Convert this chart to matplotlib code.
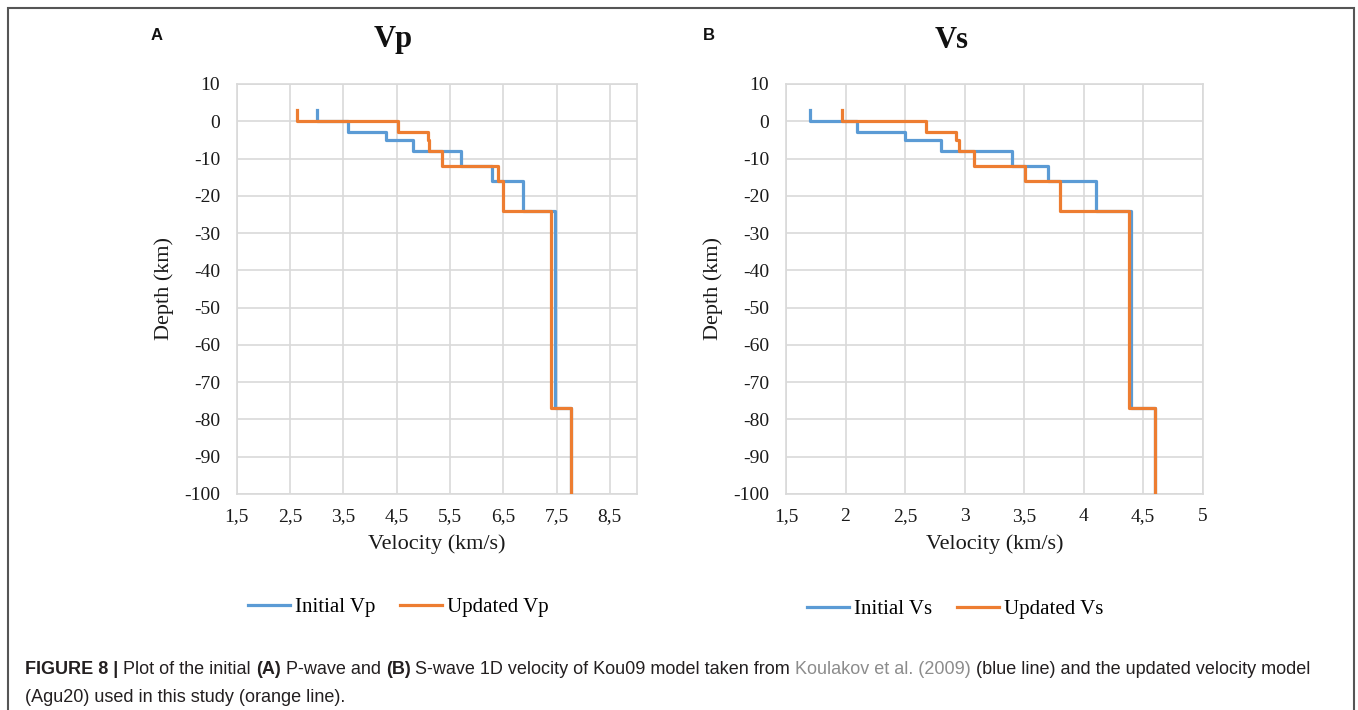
import numpy as np
import matplotlib
matplotlib.use("Agg")
import matplotlib.pyplot as plt
from matplotlib.patches import Rectangle
from matplotlib.offsetbox import TextArea, HPacker, AnnotationBbox

# layer boundaries (km), first value is the top of the plotted line
depths = [3, 0, -3, -5, -8, -12, -16, -24, -77, -100]

vp_initial = [3.0, 3.58, 4.3, 4.8, 5.7, 6.28, 6.88, 7.48, 7.78]
vp_updated = [2.63, 4.53, 5.08, 5.11, 5.35, 6.4, 6.5, 7.4, 7.78]
vs_initial = [1.7, 2.1, 2.5, 2.8, 3.4, 3.7, 4.1, 4.4, 4.6]
vs_updated = [1.97, 2.68, 2.93, 2.95, 3.08, 3.51, 3.8, 4.38, 4.6]

vp_ticks = [1.5, 2.5, 3.5, 4.5, 5.5, 6.5, 7.5, 8.5]
vs_ticks = [1.5, 2, 2.5, 3, 3.5, 4, 4.5, 5]
depth_ticks = [10, 0, -10, -20, -30, -40, -50, -60, -70, -80, -90, -100]

BLUE = "#5B9BD5"
ORANGE = "#ED7D31"
GRID = "#d9d9d9"
SERIF = "Liberation Serif"
SANS = "Liberation Sans"

W, H = 1358, 710


def steps(vel, dep):
    xs, ys = [], []
    for i, v in enumerate(vel):
        xs += [v, v]
        ys += [dep[i], dep[i + 1]]
    return xs, ys


def fmt(v):
    return ("%g" % v).replace(".", ",")


def panel(rect, vi, vu, xticks, xlim, title, title_x, letter, letter_x, names, leg_xy):
    ax = fig.add_axes([rect[0] / W, 1 - rect[3] / H,
                       (rect[2] - rect[0]) / W, (rect[3] - rect[1]) / H])
    x, y = steps(vi, depths)
    ax.plot(x, y, color=BLUE, lw=2.3, label=names[0], zorder=3)
    x, y = steps(vu, depths)
    ax.plot(x, y, color=ORANGE, lw=2.3, label=names[1], zorder=4)
    ax.set_xlim(*xlim)
    ax.set_ylim(-100, 10)
    ax.set_xticks(xticks)
    ax.set_xticklabels([fmt(t) for t in xticks], fontfamily=SERIF, fontsize=14)
    ax.set_yticks(depth_ticks)
    ax.set_yticklabels([str(t) for t in depth_ticks], fontfamily=SERIF, fontsize=14)
    ax.tick_params(length=0, colors="#1a1a1a")
    ax.tick_params(axis="x", pad=10)
    ax.tick_params(axis="y", pad=12)
    ax.grid(True, color=GRID, lw=1.2)
    ax.set_axisbelow(True)
    for s in ax.spines.values():
        s.set_color(GRID)
        s.set_linewidth(1.2)
    ax.set_xlabel("Velocity (km/s)", fontfamily=SERIF, fontsize=16, color="#1a1a1a", labelpad=7)
    ax.set_ylabel("Depth (km)", fontfamily=SERIF, fontsize=16, color="#1a1a1a", va="center")
    ax.yaxis.set_label_coords(-73 / (rect[2] - rect[0]), 0.5)
    fig.text(title_x / W, 1 - 40 / H, title, fontfamily=SERIF, fontweight="bold",
             fontsize=22, ha="center", va="center", color="#111111")
    fig.text(letter_x / W, 1 - 35 / H, letter, fontfamily=SANS, fontweight="bold",
             fontsize=12, ha="left", va="center", color="#111111")
    ax.legend(loc="center", bbox_to_anchor=(leg_xy[0] / W, 1 - leg_xy[1] / H),
              bbox_transform=fig.transFigure, ncol=2, frameon=False,
              handlelength=2.0, handletextpad=0.25, columnspacing=1.2,
              prop={"family": SERIF, "size": 15})
    return ax


fig = plt.figure(figsize=(W / 100, H / 100), dpi=100)

panel((236.7, 84, 636.5, 494), vp_initial, vp_updated, vp_ticks, (1.5, 9.0),
      "Vp", 393, "A", 151, ["Initial Vp", "Updated Vp"], (398.5, 607))
panel((786, 84, 1202.7, 494), vs_initial, vs_updated, vs_ticks, (1.5, 5.0),
      "Vs", 952, "B", 703, ["Initial Vs", "Updated Vs"], (955.5, 609))

# frame around the figure
fig.add_artist(Rectangle((8 / W, -0.02), (1354 - 8) / W, 1 - 8 / H + 0.02,
                         transform=fig.transFigure, fill=False,
                         edgecolor="#555555", lw=1.5))

# caption
CAP = 13
DARK = "#231f20"
GREY = "#8c8c8c"
line1 = [("FIGURE 8 |", "bold", DARK), ("Plot of the initial", "normal", DARK),
         ("(A)", "bold", DARK), ("P-wave and", "normal", DARK), ("(B)", "bold", DARK),
         ("S-wave 1D velocity of Kou09 model taken from", "normal", DARK),
         ("Koulakov et al. (2009)", "normal", GREY),
         ("(blue line) and the updated velocity model", "normal", DARK)]
line2 = [("(Agu20) used in this study (orange line).", "normal", DARK)]

for parts, ypx in [(line1, 670), (line2, 697)]:
    boxes = [TextArea(t, textprops=dict(fontfamily=SANS, fontweight=w, fontsize=CAP, color=c))
             for t, w, c in parts]
    pack = HPacker(children=boxes, pad=0, sep=CAP * 0.278, align="baseline")
    ab = AnnotationBbox(pack, (25 / W, 1 - ypx / H), xycoords="figure fraction",
                        box_alignment=(0, 0.5), frameon=False, pad=0)
    fig.add_artist(ab)

fig.savefig("out.png", dpi=100)
